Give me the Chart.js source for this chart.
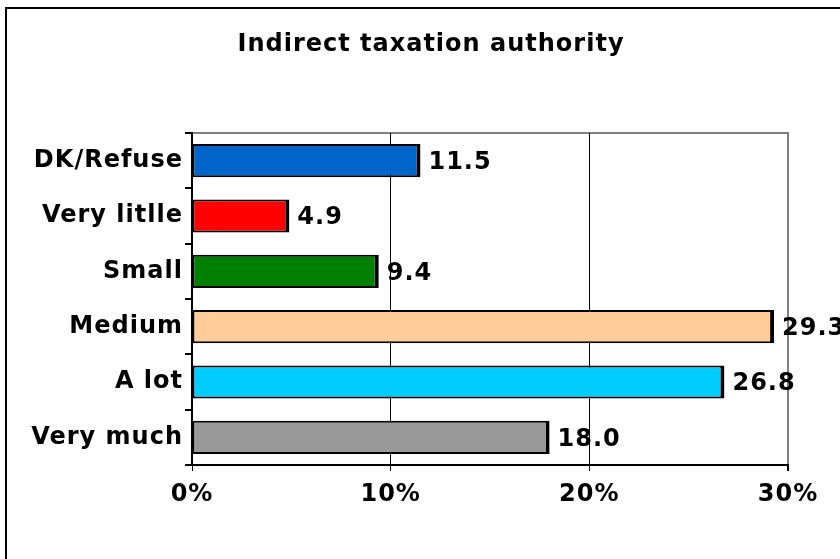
<!DOCTYPE html>
<html>
<head>
<meta charset="utf-8">
<script src="https://cdn.jsdelivr.net/npm/chart.js@4/dist/chart.umd.min.js"></script>
<style>
  html, body { margin: 0; padding: 0; background: #fff; }
  #wrap { width: 840px; height: 559px; position: relative; }
</style>
</head>
<body>
<div id="wrap"><canvas id="chartAuthority"></canvas></div>
<script>
const categories = ["DK/Refuse", "Very litlle", "Small", "Medium", "A lot", "Very much"];
const shares = [11.5, 4.9, 9.4, 29.3, 26.8, 18.0];
const barColors = ["#0066CC", "#FF0000", "#008000", "#FFCC99", "#00CCFF", "#999999"];
const xTicks = [0, 10, 20, 30];

const FONT = "'DejaVu Sans', Verdana, sans-serif";
const SIZE = 24;

// outer frame, plot border and the title
const framePlugin = {
    id: "frame",
    beforeDraw(chart) {
        const c = chart.ctx;
        const a = chart.chartArea;
        // a little extra spacing so the bold text runs as wide as Verdana
        c.letterSpacing = "1px";
        c.save();
        c.fillStyle = "#fff";
        c.fillRect(0, 0, chart.width, chart.height);
        c.strokeStyle = "#000";
        c.lineWidth = 2;
        c.strokeRect(6, 8, chart.width + 20, chart.height + 20);
        c.strokeStyle = "#808080";
        c.lineWidth = 2;
        c.strokeRect(a.left, a.top, a.right - a.left, a.bottom - a.top);
        c.fillStyle = "#000";
        c.font = "bold " + SIZE + "px " + FONT;
        c.textAlign = "center";
        c.textBaseline = "middle";
        c.fillText("Indirect taxation authority", 431, 45);
        c.restore();
    },
};

// value labels at the end of each bar
const valuePlugin = {
    id: "values",
    afterDatasetsDraw(chart) {
        const c = chart.ctx;
        const meta = chart.getDatasetMeta(0);
        c.save();
        c.fillStyle = "#000";
        c.font = "bold " + SIZE + "px " + FONT;
        c.textAlign = "left";
        c.textBaseline = "middle";
        meta.data.forEach((bar, i) => {
            c.fillText(shares[i].toFixed(1), bar.x + 8, bar.y + 2);
        });
        c.restore();
    },
};

new Chart(document.getElementById("chartAuthority"), {
    type: "bar",
    data: {
        labels: categories,
        datasets: [
            {
                data: shares,
                backgroundColor: barColors,
                borderColor: "#000",
                borderWidth: { top: 2, bottom: 2, left: 2, right: 4 },
                borderSkipped: false,
                categoryPercentage: 1,
                barPercentage: 0.6,
            },
        ],
    },
    options: {
        indexAxis: "y",
        responsive: true,
        maintainAspectRatio: false,
        animation: false,
        layout: { padding: { top: 133, right: 52, left: 0, bottom: 0 } },
        plugins: {
            legend: { display: false },
            title: { display: false },
            tooltip: { enabled: false },
        },
        scales: {
            x: {
                min: 0,
                max: 30,
                afterBuildTicks(scale) {
                    scale.ticks = xTicks.map((v) => ({ value: v }));
                },
                afterFit(scale) {
                    scale.height = 94;
                },
                grid: {
                    color: (ctx) => (ctx.tick && ctx.tick.value === 30 ? "#808080" : "#000"),
                    lineWidth: (ctx) => (ctx.tick && ctx.tick.value === 30 ? 2 : 1),
                    tickLength: 6,
                    tickColor: "#000",
                },
                border: { display: true, color: "#000", width: 2 },
                ticks: {
                    color: "#000",
                    font: { family: FONT, size: SIZE, weight: "bold" },
                    padding: 9,
                    maxRotation: 0,
                    callback: (v) => v + "%",
                },
            },
            y: {
                afterFit(scale) {
                    scale.width = 192;
                },
                grid: {
                    drawOnChartArea: false,
                    tickLength: 7,
                    color: "#000",
                    lineWidth: 2,
                },
                border: { display: true, color: "#000", width: 2 },
                ticks: {
                    color: "#000",
                    font: { family: FONT, size: SIZE, weight: "bold" },
                    padding: 2,
                },
            },
        },
    },
    plugins: [framePlugin, valuePlugin],
});
</script>
</body>
</html>
